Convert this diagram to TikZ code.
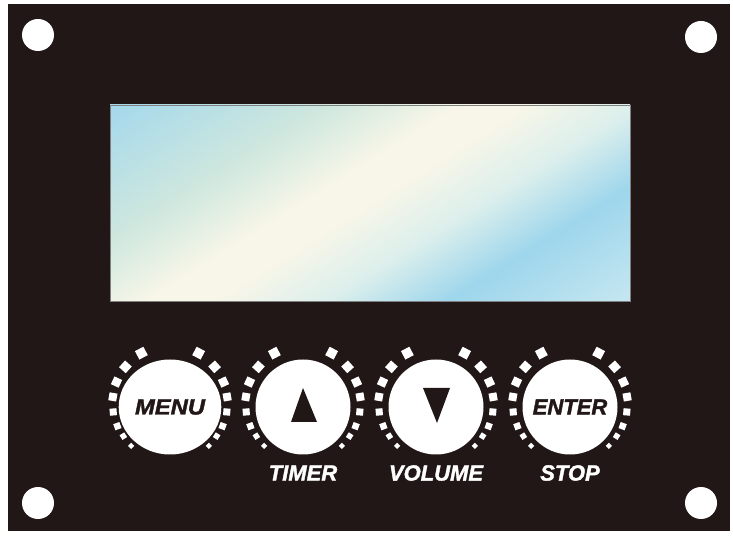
\documentclass[tikz,border=0pt]{standalone}
\usepackage{fontspec}
\newfontface\keyface{Liberation Sans Bold Italic}[FakeBold=1.6]
\usetikzlibrary{positioning}

\definecolor{panel}{HTML}{211716}
\definecolor{lcdpale}{RGB}{205,234,241}
\definecolor{lcdblue}{RGB}{158,214,236}
\definecolor{lcdmid}{RGB}{220,239,236}
\definecolor{lcdcream}{RGB}{247,246,232}
\definecolor{lcdgreen}{RGB}{206,231,222}
\definecolor{lcdtop}{RGB}{164,216,236}
\pgfdeclareverticalshading{lcd}{100bp}{color(0bp)=(lcdpale); color(30bp)=(lcdpale);
  color(39.6bp)=(lcdblue); color(45bp)=(lcdmid); color(50bp)=(lcdcream);
  color(53bp)=(lcdcream); color(59bp)=(lcdgreen); color(68.5bp)=(lcdtop);
  color(100bp)=(lcdtop)}
\newcommand{\panelfont}{\fontsize{22}{22}\selectfont\keyface}

\begin{document}
\begin{tikzpicture}[x=1pt,y=1pt,
    knob/.style={circle,fill=white,minimum size=95pt,inner sep=0pt,text=panel,font=\panelfont},
    tick/.style={fill=white,inner sep=0pt},
    caption/.style={text=white,inner sep=0pt,font=\panelfont}]
        \useasboundingbox[fill=white] (0,0) rectangle (733,538);
        \fill[panel] (8,7) rectangle (730,534);
        \foreach \point in {(38,503),(701,501),(38,35),(701,35)}
        \fill [white] \point circle (16);
        % display window
        \coordinate (S) at (370,335);
        \begin{scope}
            \clip (110,237) rectangle (630,433);
            \shade[shading=lcd,shading angle=32] ([shift={(-300,-300)}]S) rectangle ([shift={(300,300)}]S);
        \end{scope}
        \draw[gray,line width = 0.8] (110,237) rectangle (630,433);
        % keys
        \node[knob,xscale=1.08] (M) at (170,131) {MENU};
        \node[knob] (T) at (303,131) {};
        \node[knob] (V) at (436,131) {};
        \node[knob] (E) at (570,131) {ENTER};
        \foreach \k in {M,T,V,E}
        \foreach \a/\r/\s in {62/61/9.5, 42/60/9, 25/59/8.5, 10/58/8, -5/57/7, -20/56/6.5, -32/55/5.5, -45/55/4.5}
        {
            \pgfmathsetmacro\mirror{180-\a}
            \node[tick,minimum size=\s,rotate=\a] at ([shift={(\a:\r)}]\k.center) {};
            \node[tick,minimum size=\s,rotate=\mirror] at ([shift={(\mirror:\r)}]\k.center) {};
        }
        \fill[panel] ([shift={(-12,-15)}]T.center) -- ([shift={(0,19)}]T.center) -- ([shift={(14,-15)}]T.center) -- cycle;
        \fill[panel] ([shift={(-13,19)}]V.center) -- ([shift={(14,19)}]V.center) -- ([shift={(1,-16)}]V.center) -- cycle;
        \node[caption] (TL) at ([yshift=-66]T.center) {TIMER};
        \node[caption] (VL) at ([yshift=-66]V.center) {VOLUME};
        \node[caption] (EL) at ([yshift=-66]E.center) {STOP};
    \end{tikzpicture}
\end{document}
